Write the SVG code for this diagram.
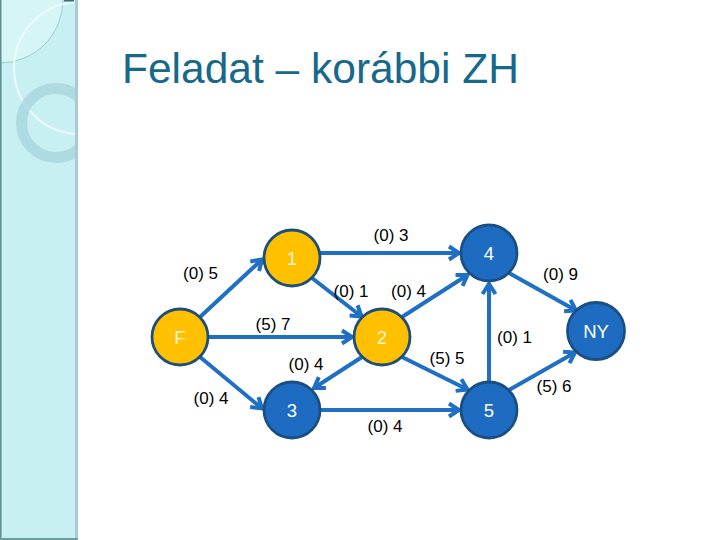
<svg xmlns="http://www.w3.org/2000/svg" width="720" height="540" viewBox="0 0 720 540">
<style>
.edge{stroke:#1F70C4;stroke-width:4;fill:none}
.nodeY{fill:#FFC000;stroke:#1F4E79;stroke-width:2.8}
.nodeB{fill:#1D6CC2;stroke:#1A4F86;stroke-width:2.8}
.nl{font-family:"Liberation Sans",Arial,sans-serif;font-size:18.5px;text-anchor:middle}
.ly{fill:#FFF4D6}
.lb{fill:#FFFFFF}
.el{font-family:"Liberation Sans",Arial,sans-serif;font-size:17px;fill:#000;text-anchor:middle}
</style>
<defs>
<marker id="arr" markerUnits="userSpaceOnUse" markerWidth="20" markerHeight="20" refX="0" refY="0" orient="auto" overflow="visible">
<path d="M-10,-6.5 L0,0 L-10,6.5" fill="none" stroke="#1F70C4" stroke-width="4" stroke-linejoin="miter"/>
</marker>
<clipPath id="side"><rect x="0" y="0" width="76" height="540"/></clipPath>
</defs>
<rect width="720" height="540" fill="#FFFFFF"/>
<g id="sidebar">
<rect x="0" y="0" width="78" height="540" fill="#C8EFF1"/>
<g clip-path="url(#side)">
<circle cx="0" cy="0" r="63" fill="#D6F5F6" stroke="#93C2C6" stroke-width="0.8"/>
<circle cx="80" cy="68" r="66" fill="none" stroke="#F2FCFC" stroke-width="2" opacity="0.85"/>
<circle cx="56" cy="123" r="34.5" fill="none" stroke="#A8D6DE" stroke-width="11" opacity="0.8"/>
</g>
<rect x="75" y="0" width="3" height="540" fill="#A6CDD2"/>
<rect x="0" y="0" width="1.5" height="540" fill="#5E8E90"/>
<rect x="0" y="538" width="78" height="2" fill="#6E9C9E"/>
<rect x="64" y="0" width="10" height="1.5" fill="#3F6E70"/>
</g>
<text x="122" y="82.5" font-family="'Liberation Sans',Arial,sans-serif" font-size="42.5" fill="#17698B">Feladat – korábbi ZH</text>
<g id="connectors">
<line class="edge" x1="200" y1="317" x2="262" y2="259.5" marker-end="url(#arr)"/>
<line class="edge" x1="319" y1="253" x2="459" y2="253" marker-end="url(#arr)"/>
<line class="edge" x1="312" y1="278" x2="361.5" y2="316.5" marker-end="url(#arr)"/>
<line class="edge" x1="209" y1="337" x2="352" y2="337" marker-end="url(#arr)"/>
<line class="edge" x1="200" y1="357" x2="262" y2="408.5" marker-end="url(#arr)"/>
<line class="edge" x1="362" y1="357" x2="314" y2="388" marker-end="url(#arr)"/>
<line class="edge" x1="402" y1="357" x2="467.5" y2="389.5" marker-end="url(#arr)"/>
<line class="edge" x1="321" y1="410" x2="459" y2="410" marker-end="url(#arr)"/>
<line class="edge" x1="489" y1="381" x2="489" y2="284" marker-end="url(#arr)"/>
<line class="edge" x1="402" y1="317" x2="467.5" y2="275" marker-end="url(#arr)"/>
<line class="edge" x1="509" y1="273" x2="576" y2="310.5" marker-end="url(#arr)"/>
<line class="edge" x1="509" y1="390" x2="575" y2="352.5" marker-end="url(#arr)"/>
</g>
<g id="edge-labels">
<text class="el" x="391" y="241">(0) 3</text>
<text class="el" x="200.5" y="279">(0) 5</text>
<text class="el" x="351" y="297">(0) 1</text>
<text class="el" x="408.5" y="297">(0) 4</text>
<text class="el" x="273" y="330">(5) 7</text>
<text class="el" x="306" y="370">(0) 4</text>
<text class="el" x="560.5" y="280">(0) 9</text>
<text class="el" x="514.5" y="343">(0) 1</text>
<text class="el" x="447" y="364">(5) 5</text>
<text class="el" x="554" y="391.5">(5) 6</text>
<text class="el" x="211" y="404">(0) 4</text>
<text class="el" x="385" y="432">(0) 4</text>
</g>
<g id="node-F"><circle class="nodeY" cx="180" cy="337" r="28"/><text class="nl ly" x="180" y="343.5">F</text></g>
<g id="node-1"><circle class="nodeY" cx="292" cy="258" r="28"/><text class="nl ly" x="292" y="264.5">1</text></g>
<g id="node-2"><circle class="nodeY" cx="382" cy="337" r="28"/><text class="nl ly" x="382" y="343.5">2</text></g>
<g id="node-3"><circle class="nodeB" cx="292" cy="410" r="28"/><text class="nl lb" x="292" y="416.5">3</text></g>
<g id="node-4"><circle class="nodeB" cx="489" cy="253" r="28"/><text class="nl lb" x="489" y="259.5">4</text></g>
<g id="node-5"><circle class="nodeB" cx="489" cy="410" r="28"/><text class="nl lb" x="489" y="416.5">5</text></g>
<g id="node-NY"><circle class="nodeB" cx="596" cy="331" r="28.5"/><text class="nl lb" x="596" y="338" font-size="20">NY</text></g>
</svg>
